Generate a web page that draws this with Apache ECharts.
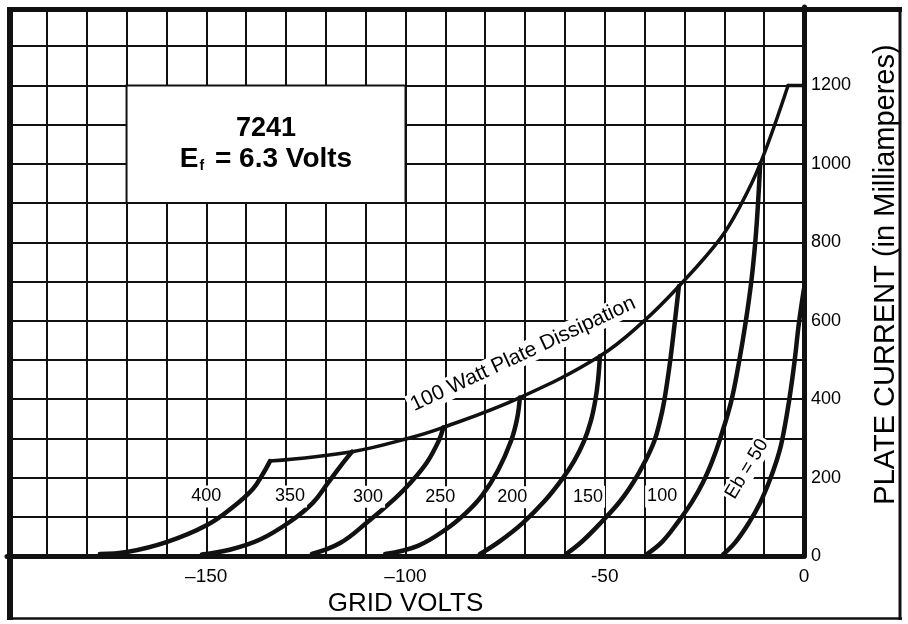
<!DOCTYPE html>
<html>
<head>
<meta charset="utf-8">
<script src="https://cdn.jsdelivr.net/npm/echarts@6/dist/echarts.min.js"></script>
<style>
html,body{margin:0;padding:0;background:#fff;}
#c{width:908px;height:624px;}
</style>
</head>
<body>
<div id="c"></div>
<script>
// ---- data (grid volts, plate current mA) ----
const eb400 = [[-176.7,5],[-169.9,10],[-159.8,36],[-149.8,79],[-143.3,125],[-138.3,171],[-135.8,209],[-134,242]];
const eb350 = [[-151.1,4],[-144.1,16],[-136.5,42],[-128.9,88],[-123.2,136],[-119.4,187],[-116.4,228],[-113.4,266]];
const eb300 = [[-123.5,5],[-116.4,33],[-109.6,86],[-102.6,147],[-98.8,186],[-94.6,239],[-91.6,295],[-90.5,328]];
const eb250 = [[-105.1,5],[-96.9,26],[-89.6,70],[-84.8,110],[-80.8,154],[-76.8,218],[-73.5,294],[-72,350],[-71.3,404]];
const eb200 = [[-81.3,5],[-76.3,38],[-70.6,84],[-65.1,140],[-60.7,196],[-57.7,242],[-55.2,293],[-53.5,344],[-52.4,395],[-51.7,446],[-51.2,510]];
const eb150 = [[-59.7,5],[-55.7,37],[-50.7,88],[-46.2,139],[-42.7,190],[-39.9,241],[-37.6,292],[-36.2,342],[-35.1,394],[-33.6,496],[-32.4,598],[-31.4,688]];
const eb100 = [[-39.4,5],[-35.6,36],[-31.6,87],[-28.1,138],[-25.3,189],[-23.1,240],[-21.3,291],[-18.3,393],[-16.3,495],[-14.6,599],[-13.2,702],[-12.2,804],[-11.5,906],[-11,1000]];
const eb50  = [[-20.3,4],[-17.3,34],[-13.8,85],[-11,136],[-8.8,188],[-7,239],[-5.6,290],[-3.8,392],[-2.4,494],[-1.25,596],[0,682]];
const dissipation = [[-134,242],[-113.4,266],[-99.7,299],[-90.5,328],[-71.3,404],[-51.2,510],[-40.4,597],[-31.4,688],[-21.1,808],[-16,893],[-11,1000],[-4,1200]];
const currentLimit = [[-4,1200],[0,1200]];

const curveLabels = ['400','350','300','250','200','150','100'];
const curveLabelX = [-150,-129,-109.4,-91.3,-73.2,-54.2,-35.6];
const curveLabelY = [152,152,151,150,150,151,152];
const ebLabel = 'Eb = 50';
const ebLabelPos = [-14.3,222];
const dissLabel = '100 Watt Plate Dissipation';
const dissLabelPos = [-70.5,515];

const xTickLabels = {'-150':'–150','-100':'–100','-50':'-50','0':'0'};
const yTickLabels = [0,200,400,600,800,1000,1200];
const titleLine1 = '7241';
const titleBox = [[-170,1200],[-100,900]];

const FONT = 'Liberation Sans';
const INK = '#111';

const chart = echarts.init(document.getElementById('c'), null, {renderer:'canvas'});

function curve(data, w){
  return {type:'line', data:data, showSymbol:false, smooth:0.4,
    lineStyle:{color:INK, width:w, cap:'round', join:'round'}, silent:true, z:3};
}
function labelSeries(data, extra){
  return {type:'scatter', symbolSize:1, itemStyle:{color:'#fff', opacity:1}, silent:true, z:5,
    data:data,
    label:Object.assign({show:true, position:'inside', formatter:p=>p.value[2], fontFamily:FONT,
      color:'#000', opacity:1, textBorderWidth:0, textBorderColor:'transparent', backgroundColor:'#fff'}, extra)};
}

const option = {
  animation:false,
  backgroundColor:'#fff',
  grid:{left:7, right:104, top:7, bottom:68},
  xAxis:{type:'value', min:-200, max:0, interval:10,
    axisLine:{show:true, onZero:false, lineStyle:{color:INK, width:5}},
    axisTick:{show:false},
    splitLine:{show:true, showMinLine:false, lineStyle:{color:INK, width:2}},
    axisLabel:{margin:11, fontFamily:FONT, fontSize:19, color:'#000',
      formatter:v => (xTickLabels[String(v)] !== undefined ? xTickLabels[String(v)] : '')},
    name:'GRID VOLTS', nameLocation:'middle', nameGap:31,
    nameTextStyle:{fontFamily:FONT, fontSize:26, color:'#000'}
  },
  yAxis:{type:'value', position:'right', min:0, max:1400, interval:100,
    axisLine:{show:true, lineStyle:{color:INK, width:5}},
    axisTick:{show:false},
    splitLine:{show:true, showMaxLine:false, lineStyle:{color:INK, width:2}},
    axisLabel:{margin:7, fontFamily:FONT, fontSize:18, color:'#000',
      formatter:v => (yTickLabels.indexOf(v) >= 0 ? String(v) : '')},
    name:'PLATE CURRENT (in Milliamperes)', nameLocation:'middle', nameGap:67, nameRotate:90,
    nameTextStyle:{fontFamily:FONT, fontSize:29, color:'#000', padding:[0,0,0,14]}
  },
  graphic:[
    {type:'line', shape:{x1:10,y1:7,x2:10,y2:620}, style:{stroke:INK, lineWidth:6}, z:10},
    {type:'line', shape:{x1:7,y1:9.5,x2:902,y2:9.5}, style:{stroke:INK, lineWidth:5}, z:10},
    {type:'line', shape:{x1:900,y1:7,x2:900,y2:620}, style:{stroke:INK, lineWidth:3}, z:10},
    {type:'line', shape:{x1:7,y1:618.5,x2:902,y2:618.5}, style:{stroke:INK, lineWidth:2.5}, z:10}
  ],
  series:[
    Object.assign(curve(dissipation, 3.5), {
      markArea:{silent:true,
        itemStyle:{color:'#fff', borderColor:INK, borderWidth:2},
        label:{show:true, position:'inside', color:'#000',
          formatter:'{t|' + titleLine1 + '}\n{e|E}{s|f}{e| = 6.3 Volts}',
          rich:{
            t:{fontFamily:FONT, fontWeight:'bold', fontSize:27, lineHeight:31, color:'#000'},
            e:{fontFamily:FONT, fontWeight:'bold', fontSize:28, lineHeight:31, color:'#000'},
            s:{fontFamily:FONT, fontWeight:'bold', fontSize:14, lineHeight:31, padding:[12,3,0,1], color:'#000'}
          }},
        data:[[{coord:titleBox[0]},{coord:titleBox[1]}]]
      }
    }),
    Object.assign(curve(currentLimit, 3.5), {smooth:false}),
    curve(eb400, 4.5), curve(eb350, 4.5), curve(eb300, 4.5), curve(eb250, 4.5),
    curve(eb200, 4.5), curve(eb150, 4.5), curve(eb100, 4.5), curve(eb50, 4.5),
    labelSeries(curveLabels.map((t,i)=>[curveLabelX[i], curveLabelY[i], t]), {fontSize:18, padding:[2,2,2,2]}),
    labelSeries([[ebLabelPos[0], ebLabelPos[1], ebLabel]], {rotate:59, fontSize:19, padding:[1,2,1,2]}),
    labelSeries([[dissLabelPos[0], dissLabelPos[1], dissLabel]], {rotate:25, fontSize:21, padding:[1,3,1,3]})
  ]
};
chart.setOption(option);
</script>
</body>
</html>
